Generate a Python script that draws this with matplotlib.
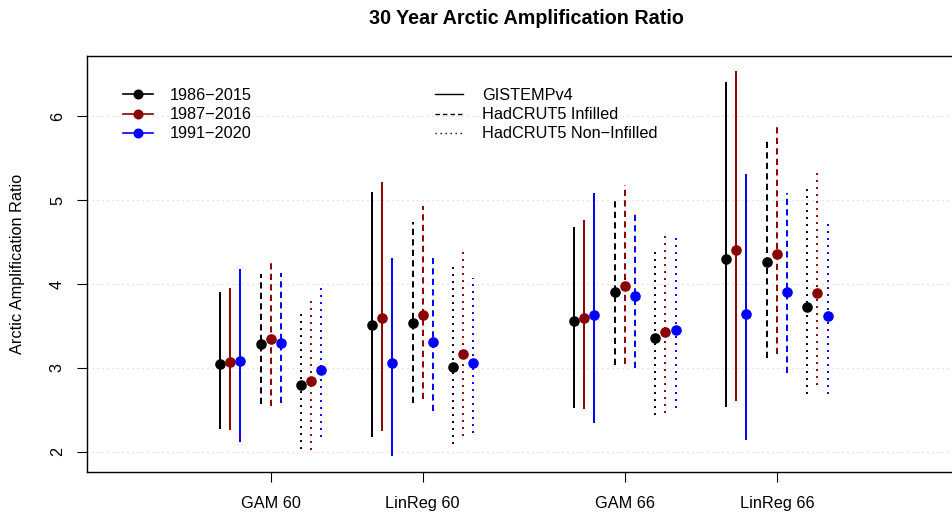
import matplotlib
matplotlib.use("Agg")
import matplotlib.pyplot as plt
from matplotlib.lines import Line2D
import numpy as np

plt.rcParams["font.family"] = ["Liberation Sans", "DejaVu Sans"]

# data: rows = groups, columns = datasets
groups   = ["GAM 60", "LinReg 60", "GAM 66", "LinReg 66"]
datasets = ["GISTEMPv4", "HadCRUT5 Infilled", "HadCRUT5 Non\u2212Infilled"]
periods  = ["1986\u22122015", "1987\u22122016", "1991\u22122020"]

est_1986 = [[3.05, 3.29, 2.80], [3.51, 3.54, 3.01], [3.56, 3.91, 3.35], [4.30, 4.26, 3.73]]
lo_1986  = [[2.27, 2.57, 2.03], [2.18, 2.58, 2.09], [2.52, 3.03, 2.44], [2.53, 3.12, 2.69]]
hi_1986  = [[3.90, 4.12, 3.65], [5.10, 4.74, 4.24], [4.68, 5.00, 4.44], [6.41, 5.71, 5.14]]

est_1987 = [[3.07, 3.34, 2.84], [3.60, 3.63, 3.16], [3.59, 3.98, 3.43], [4.40, 4.36, 3.89]]
lo_1987  = [[2.26, 2.55, 2.02], [2.25, 2.63, 2.19], [2.51, 3.04, 2.46], [2.61, 3.17, 2.80]]
hi_1987  = [[3.95, 4.26, 3.80], [5.22, 4.93, 4.42], [4.76, 5.18, 4.61], [6.54, 5.92, 5.32]]

est_1991 = [[3.08, 3.30, 2.97], [3.06, 3.31, 3.06], [3.63, 3.86, 3.45], [3.64, 3.90, 3.62]]
lo_1991  = [[2.11, 2.58, 2.18], [1.95, 2.49, 2.22], [2.34, 3.00, 2.52], [2.14, 2.94, 2.69]]
hi_1991  = [[4.18, 4.13, 3.95], [4.31, 4.31, 4.07], [5.09, 4.85, 4.58], [5.31, 5.08, 4.76]]

est = [est_1986, est_1987, est_1991]
lo  = [lo_1986, lo_1987, lo_1991]
hi  = [hi_1986, hi_1987, hi_1991]

# layout / styles
group_x   = np.array([1.0, 2.0, 3.33, 4.33])
ds_off    = [-4 / 15, 0.0, 4 / 15]
per_off   = [-1 / 15, 0.0, 1 / 15]
colors    = ["black", "#8B0000", "#0000FF"]
styles    = ["solid", (0, (3.2, 2.2)), (0, (1, 2.6))]

W, H = 953, 516
fig = plt.figure(figsize=(W / 100, H / 100), dpi=100)
left, right, top, bottom = 86.7, 967.0, 56.0, 471.7
ax = fig.add_axes([left / W, 1 - bottom / H, (right - left) / W, (bottom - top) / H])

fs = 11.7
lw = 1.4

for gi in range(len(groups)):
    for di in range(len(datasets)):
        for pi in range(len(periods)):
            xx = group_x[gi] + ds_off[di] + per_off[pi]
            ax.vlines(xx, lo[pi][gi][di], hi[pi][gi][di], color=colors[pi],
                      linestyles=[styles[di]], linewidth=lw, zorder=2)
            ax.plot([xx], [est[pi][gi][di]], "o", color=colors[pi],
                    markersize=6.6, zorder=3)

ax.set_xlim(1 + (left - 270.7) / 152, 1 + (right - 270.7) / 152)
ax.set_ylim(1.7615, 6.719)

yt = [2, 3, 4, 5, 6]
for v in yt:
    ax.axhline(v, color="#D3D3D3", linewidth=0.8, linestyle=(0, (1, 3.5)), zorder=1)

ax.set_yticks(yt)
ax.set_yticklabels([str(v) for v in yt], rotation=90, va="center", fontsize=fs)
ax.set_xticks(group_x)
ax.set_xticklabels(groups, fontsize=fs)
ax.tick_params(axis="both", direction="out", length=7.2, width=0.8, color="black")
ax.tick_params(axis="y", pad=8.5)
ax.tick_params(axis="x", pad=10)
for s in ax.spines.values():
    s.set_linewidth(1.0)

fig.text(17.5 / W, 1 - (top + bottom) / 2 / H, "Arctic Amplification Ratio",
         rotation=90, ha="center", va="center", fontsize=fs)
fig.text((left + right) / 2 / W, 1 - 24 / H, "30 Year Arctic Amplification Ratio",
         ha="center", va="baseline", fontsize=14.2, fontweight="bold")

h1 = [Line2D([], [], color=c, marker="o", markersize=6.2, linewidth=1.2) for c in colors]
leg1 = ax.legend(h1, periods, loc="upper left",
                 bbox_to_anchor=(123.3 / W, 1 - 88 / H), bbox_transform=fig.transFigure,
                 frameon=False, fontsize=fs, borderpad=0, borderaxespad=0,
                 handlelength=1.85, handletextpad=0.99, labelspacing=0.26)
ax.add_artist(leg1)

h2 = [Line2D([], [], color="black", linestyle=st, linewidth=1.0) for st in styles]
ax.legend(h2, datasets, loc="upper left",
          bbox_to_anchor=(435 / W, 1 - 88 / H), bbox_transform=fig.transFigure,
          frameon=False, fontsize=fs, borderpad=0, borderaxespad=0,
          handlelength=1.75, handletextpad=1.13, labelspacing=0.26)

fig.savefig("out.png", dpi=100)
